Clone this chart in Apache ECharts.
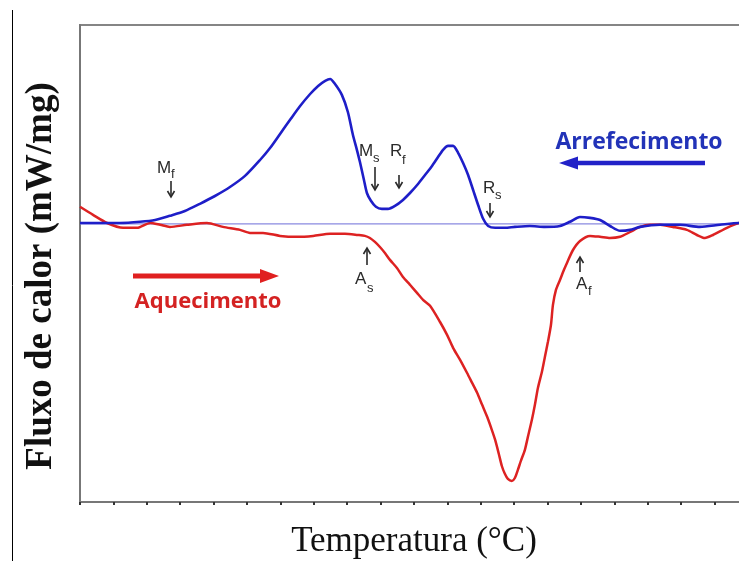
<!DOCTYPE html>
<html>
<head>
<meta charset="utf-8">
<script src="https://cdn.jsdelivr.net/npm/echarts@6/dist/echarts.min.js"></script>
<style>html,body{margin:0;padding:0;background:#fff}#c{width:739px;height:561px}</style>
</head>
<body>
<div id="c"></div>
<script>
// Cooling (Arrefecimento) curve: temperature (arb. units, 1 per tick) and heat flow (arb. units)
const coolT = [0,0.60,1.20,1.80,2.25,2.69,3.14,3.59,4.04,4.49,4.94,5.39,5.69,5.99,6.29,6.59,6.89,7.13,7.34,7.49,7.63,7.84,8.02,8.17,8.29,8.38,8.50,8.59,8.71,8.86,9.04,9.22,9.43,9.67,9.88,10.12,10.33,10.54,10.72,10.87,11.02,11.17,11.32,11.47,11.62,11.77,11.92,12.07,12.22,12.43,12.72,13.02,13.47,13.92,14.37,14.67,14.97,15.27,15.57,15.87,16.17,16.47,16.77,17.37,17.96,18.56,19.16,19.73,20];
const coolQ = [0.03,0.03,0.03,0.07,0.13,0.27,0.43,0.67,0.93,1.23,1.60,2.13,2.53,3.00,3.47,3.93,4.33,4.60,4.77,4.83,4.67,4.30,3.73,2.97,2.47,2.07,1.47,1.03,0.77,0.57,0.50,0.50,0.60,0.80,1.03,1.33,1.63,1.93,2.23,2.47,2.60,2.60,2.37,2.03,1.63,1.13,0.63,0.17,-0.07,-0.13,-0.13,-0.10,-0.07,-0.10,-0.07,0.07,0.23,0.20,0.13,-0.07,-0.23,-0.20,-0.10,-0.03,-0.03,-0.10,-0.03,0.03,0.03];
// Heating (Aquecimento) curve
const heatT = [0,0.39,0.81,1.29,1.71,2.10,2.40,2.69,3.20,3.80,4.28,4.79,5.09,5.48,5.99,6.50,6.98,7.49,7.93,8.32,8.53,8.68,8.83,8.98,9.13,9.28,9.49,9.67,9.88,10.09,10.27,10.48,10.78,10.99,11.17,11.38,11.59,11.74,11.89,12.04,12.19,12.31,12.43,12.54,12.63,12.72,12.81,12.93,13.02,13.11,13.20,13.32,13.41,13.53,13.62,13.71,13.83,13.92,14.01,14.10,14.16,14.25,14.37,14.49,14.58,14.76,14.97,15.27,15.57,15.87,16.17,16.47,16.77,17.07,17.37,17.75,18.17,18.47,18.71,18.95,19.37,19.73,20];
const heatQ = [0.57,0.30,0.03,-0.13,-0.13,0.03,-0.03,-0.10,-0.03,0.03,-0.10,-0.20,-0.30,-0.30,-0.40,-0.43,-0.40,-0.33,-0.33,-0.37,-0.40,-0.47,-0.60,-0.77,-0.97,-1.20,-1.47,-1.77,-2.03,-2.30,-2.53,-2.73,-3.27,-3.70,-4.13,-4.53,-4.97,-5.30,-5.63,-6.03,-6.43,-6.80,-7.20,-7.67,-8.07,-8.33,-8.50,-8.57,-8.47,-8.20,-7.90,-7.53,-7.10,-6.53,-6.03,-5.47,-4.93,-4.43,-3.93,-3.37,-2.70,-2.20,-1.87,-1.53,-1.30,-0.87,-0.57,-0.40,-0.43,-0.47,-0.43,-0.27,-0.10,-0.03,-0.03,-0.10,-0.20,-0.37,-0.47,-0.37,-0.13,0.03,0.07];
// Baseline
const baseT = [0,20];
const baseQ = [0,0];

const xName = 'Temperatura (°C)';
const yName = 'Fluxo de calor (mW/mg)';
const coolName = 'Arrefecimento';
const heatName = 'Aquecimento';

const zip = (a,b) => a.map((v,i)=>[v,b[i]]);
const chart = echarts.init(document.getElementById('c'), null, {renderer:'canvas'});

const annFont = 'Liberation Sans, Arial, sans-serif';
const annColor = '#2a2a2a';
function txt(x,y,s,size){return {type:'text',x:x,y:y,style:{text:s,font:size+'px '+annFont,fill:annColor,textVerticalAlign:'middle',textAlign:'left'},z:50};}
function arrow(x,y1,y2){
  const d = y2>y1?-1:1;
  return [
    {type:'line',shape:{x1:x,y1:y1,x2:x,y2:y2},style:{stroke:annColor,lineWidth:1.6},z:50},
    {type:'polyline',shape:{points:[[x-3.5,y2+d*6],[x,y2],[x+3.5,y2+d*6]]},style:{stroke:annColor,lineWidth:1.6,fill:null},z:50}
  ];
}
const graphics = [
  {type:'line',shape:{x1:12.5,y1:10,x2:12.5,y2:561},style:{stroke:'#000',lineWidth:1}},
  {type:'text',x:41,y:276,rotation:Math.PI/2,style:{text:yName,font:'bold 37px "Liberation Serif", "Times New Roman", serif',fill:'#111',textAlign:'center',textVerticalAlign:'middle'},z:50},
  // Mf
  txt(157,168,'M',17), txt(171,174,'f',13), ...arrow(171,181,197),
  // Ms
  txt(359,151,'M',17), txt(373,158,'s',13), ...arrow(375,167,190),
  // Rf
  txt(390,151,'R',17), txt(402,160,'f',13), ...arrow(399,175,188),
  // Rs
  txt(483,188,'R',17), txt(495,195,'s',13), ...arrow(490,203,217),
  // As
  txt(355,279,'A',17), txt(367,288,'s',13), ...arrow(367,265,248),
  // Af
  txt(576,284,'A',17), txt(588,291,'f',13), ...arrow(580,272,257),
  // Arrefecimento
  {type:'text',x:639,y:142,style:{text:coolName,font:'bold 23px "Open Sans", sans-serif',fill:'#2233b8',textAlign:'center',textVerticalAlign:'middle'},z:50},
  {type:'line',shape:{x1:574,y1:163,x2:705,y2:163},style:{stroke:'#2222c8',lineWidth:4.5},z:50},
  {type:'polygon',shape:{points:[[578,156.5],[559,163],[578,169.5]]},style:{fill:'#2222c8'},z:50},
  // Aquecimento
  {type:'text',x:208,y:302,style:{text:heatName,font:'bold 22px "Open Sans", sans-serif',fill:'#d42222',textAlign:'center',textVerticalAlign:'middle'},z:50},
  {type:'line',shape:{x1:133,y1:276,x2:264,y2:276},style:{stroke:'#e02020',lineWidth:5},z:50},
  {type:'polygon',shape:{points:[[260,269],[279,276],[260,283]]},style:{fill:'#e02020'},z:50}
];

chart.setOption({
  animation:false,
  backgroundColor:'#fff',
  grid:{left:80,width:668,top:25,bottom:59,show:true,borderColor:'#858585',borderWidth:2,backgroundColor:'transparent',containLabel:false,outerBoundsMode:'none'},
  xAxis:{type:'value',min:0,max:20,interval:1,
    name:xName,nameLocation:'middle',nameGap:22,
    nameTextStyle:{fontFamily:'"Liberation Serif", "Times New Roman", serif',fontSize:35,color:'#111'},
    axisLine:{show:true,onZero:false,lineStyle:{color:'#777',width:2}},
    axisTick:{show:true,length:3,lineStyle:{color:'#333',width:2}},
    axisLabel:{show:false},splitLine:{show:false}},
  yAxis:{type:'value',min:-9.27,max:6.63,
    axisLine:{show:true,onZero:false,lineStyle:{color:'#777',width:2}},
    axisTick:{show:false},axisLabel:{show:false},splitLine:{show:false}},
  series:[
    {type:'line',data:zip(baseT,baseQ),symbol:'none',lineStyle:{color:'#8a8ae0',width:1.2},silent:true,z:1},
    {type:'line',name:heatName,data:zip(heatT,heatQ),symbol:'none',smooth:0.25,lineStyle:{color:'#dd2222',width:2.5},z:3},
    {type:'line',name:coolName,data:zip(coolT,coolQ),symbol:'none',smooth:0.25,lineStyle:{color:'#1e1ec8',width:2.6},z:4}
  ],
  graphic:graphics
});
</script>
</body>
</html>
